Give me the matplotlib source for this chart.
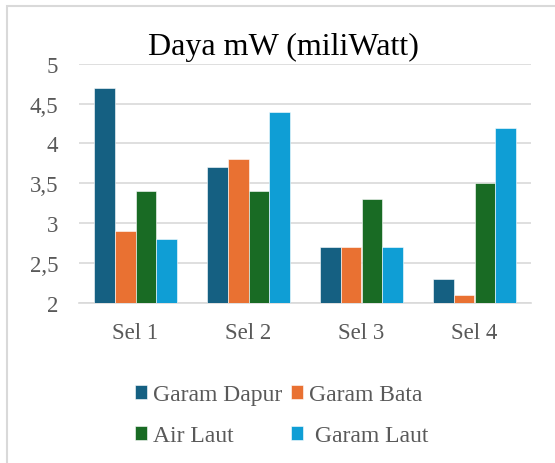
import matplotlib
matplotlib.use("Agg")
import matplotlib.pyplot as plt
import numpy as np
from matplotlib.patches import Rectangle

categories = ["Sel 1", "Sel 2", "Sel 3", "Sel 4"]
series_names = ["Garam Dapur", "Garam Bata", "Air Laut", " Garam Laut"]
garam_dapur = [4.7, 3.7, 2.7, 2.3]
garam_bata = [2.9, 3.8, 2.7, 2.1]
air_laut = [3.4, 3.4, 3.3, 3.5]
garam_laut = [2.8, 4.4, 2.7, 4.2]
y_ticks = [2, 2.5, 3, 3.5, 4, 4.5, 5]
y_tick_labels = ["2", "2,5", "3", "3,5", "4", "4,5", "5"]
colors = ["#156082", "#E97132", "#196B24", "#0F9ED5"]

plt.rcParams['font.family'] = ['Liberation Serif', 'DejaVu Serif']

fig = plt.figure(figsize=(5.55, 4.64), dpi=100)
fig.patches.append(Rectangle((7/555, -0.1), 1.2, 1 - 7/464 + 0.1,
                             transform=fig.transFigure, fill=False,
                             edgecolor="#d9d9d9", linewidth=1.5))

ax = fig.add_axes([79/555, 1 - 304/464, (531 - 79)/555, (304 - 64.7)/464])
x = np.arange(len(categories))
w = 0.182
all_series = [garam_dapur, garam_bata, air_laut, garam_laut]
bars = []
for i, (vals, name, c) in enumerate(zip(all_series, series_names, colors)):
    b = ax.bar(x + (i - 1.5) * w, np.array(vals) - 2, w, bottom=2, color=c,
               label=name, edgecolor="white", linewidth=0.4, zorder=3)
    bars.append(b)

ax.set_ylim(2, 5)
ax.set_xlim(-0.5, 3.5)
ax.set_yticks(y_ticks)
ax.set_yticklabels(y_tick_labels)
ax.set_xticks(x)
ax.set_xticklabels(categories)
ax.tick_params(axis='both', length=0, labelsize=16.5, labelcolor="#595959")
ax.tick_params(axis='y', pad=15)
ax.tick_params(axis='x', pad=14)
ax.grid(axis='y', color="#d9d9d9", linewidth=1.2, zorder=0)
for s in ["top", "right", "left"]:
    ax.spines[s].set_visible(False)
ax.spines["bottom"].set_color("#d9d9d9")
ax.spines["bottom"].set_linewidth(1.2)

fig.text(283/555, 1 - 47/464, "Daya mW (miliWatt)", ha="center", va="center",
         fontsize=23, color="black")

order = [0, 2, 1, 3]
handles = [bars[i] for i in order]
labels = [series_names[i] for i in order]
leg = fig.legend(handles, labels, ncol=2, loc="upper left",
                 bbox_to_anchor=(135/555, 1 - 385/464), frameon=False,
                 fontsize=17, handlelength=0.52, handleheight=0.52,
                 handletextpad=0.25, columnspacing=0.35, labelspacing=0.85,
                 borderaxespad=0, borderpad=0)
for t in leg.get_texts():
    t.set_color("#595959")

fig.savefig("out.png", dpi=100)
